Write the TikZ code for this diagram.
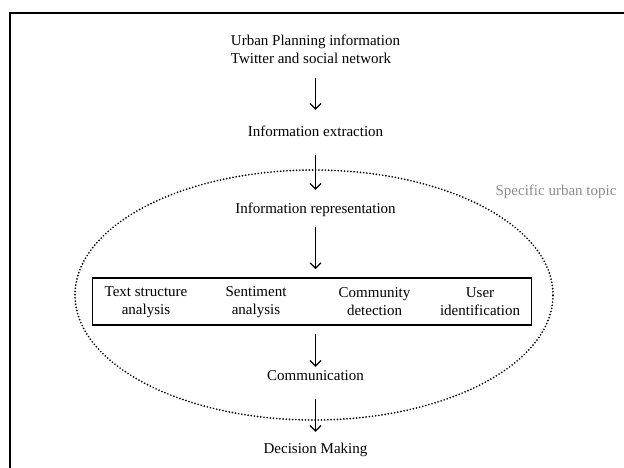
\documentclass[tikz,border=0pt]{standalone}
\usepackage{fontspec}
\setmainfont{Liberation Serif}
\usetikzlibrary{arrows.meta}

\tikzset{
  stage/.style={inner sep=0pt, text height=10pt, text depth=3pt,
    font=\fontsize{15}{18}\selectfont},
  task/.style={inner sep=0pt, align=center, font=\fontsize{15}{18}\selectfont},
  taskbox/.style={draw, line width=1.8pt, minimum width=439pt, minimum height=47pt},
  flow/.style={-{Straight Barb[length=5.5pt,width=11pt]}, line width=1.2pt},
  topic/.style={draw, line width=1.9pt, line cap=round, dash pattern=on 0pt off 3.2pt}
}

\begin{document}
\begin{tikzpicture}[x=1pt, y=-1pt, node distance=77pt]
    \useasboundingbox (0,0) rectangle (624,467);
    \clip (0,0) rectangle (624,467);
    \draw[line width=1.8pt] (10,13) rectangle (640,480);

    % urban topic
    \draw[topic] (314,295) ellipse [x radius=239pt, y radius=125pt];
    \node (T) [task, text=black!45] at (556,192) {Specific urban topic};

    \node (I0) [task, align=left] at (315.5,49.5) {Urban Planning information\\Twitter and social network};
    \node (I1) [stage, below of=I0, node distance=83.5pt] {Information extraction};
    \node (I2) [stage, below of=I1] {Information representation};
    \node (B) [taskbox, below of=I2, node distance=91.5pt, xshift=-3.5pt] {};
    \node (C) [stage, below of=B, node distance=75.5pt, xshift=3.5pt] {Communication};
    \node (D) [stage, below of=C, node distance=73pt] {Decision Making};

    % analysis tasks
    \node (A0) [task] at (146,302) {Text structure\\analysis};
    \node (A1) [task] at (256,302) {Sentiment\\analysis};
    \node (A2) [task] at (374.5,302) {Community\\detection};
    \node (A3) [task] at (480,302) {User\\identification};

    \path[flow]
      (I0) edge[shorten <=13.5pt, shorten >=16.5pt] (I1)
      (I1) edge[shorten <=15.5pt, shorten >=13.5pt] (I2)
      (I2) edge[shorten <=10.5pt, shorten >=8pt] (I2 |- B.north)
      (C |- B.south) edge[shorten <=8pt, shorten >=3.5pt] (C)
      (C) edge[shorten <=15.5pt, shorten >=11.5pt] (D);
  \end{tikzpicture}
\end{document}
